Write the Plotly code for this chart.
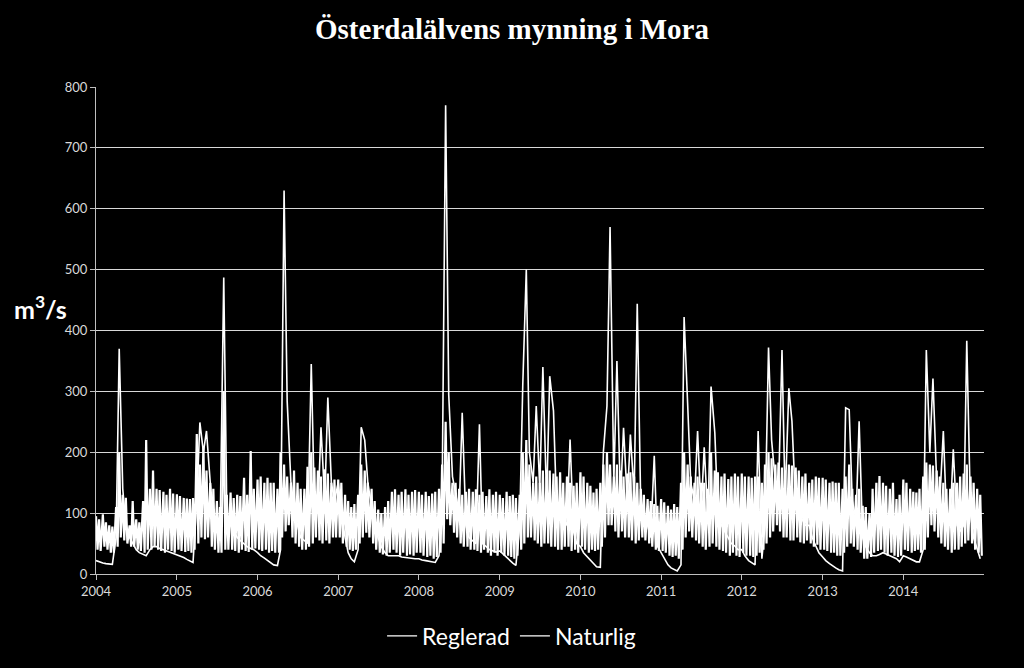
import pandas as pd
import plotly.graph_objects as go

years = list(range(2004, 2015))
tick_labels = [str(y) for y in years]

# Half-monthly readings (1st and 16th of each month), one row per year 2004-2014
reglerad_hog = [
    [95, 90, 98, 85, 80, 78, 110, 200, 130, 125, 80, 120, 90, 85, 120, 220, 140, 170, 140, 138, 135, 130, 140, 132],
    [131, 128, 125, 124, 123, 125, 230, 180, 210, 170, 150, 140, 120, 110, 300, 130, 134, 125, 130, 128, 158, 130, 202, 140],
    [155, 160, 150, 158, 150, 150, 140, 200, 180, 160, 150, 170, 150, 140, 140, 176, 200, 175, 170, 160, 172, 165, 150, 155],
    [155, 150, 130, 120, 110, 115, 130, 180, 170, 150, 140, 120, 106, 100, 110, 120, 135, 139, 130, 135, 139, 130, 135, 138],
    [135, 130, 135, 128, 132, 135, 140, 180, 250, 200, 150, 150, 140, 130, 135, 140, 135, 139, 130, 135, 128, 139, 130, 135],
    [130, 125, 135, 128, 130, 125, 130, 200, 220, 180, 150, 160, 150, 170, 160, 170, 165, 160, 167, 150, 160, 150, 145, 150],
    [167, 160, 150, 145, 134, 140, 150, 180, 200, 180, 160, 180, 170, 160, 165, 167, 160, 150, 140, 130, 123, 120, 115, 112],
    [123, 118, 112, 106, 115, 110, 150, 200, 180, 160, 150, 160, 150, 150, 140, 200, 170, 167, 160, 165, 156, 160, 165, 160],
    [165, 160, 160, 158, 160, 160, 150, 180, 200, 190, 180, 183, 175, 170, 180, 178, 175, 170, 160, 165, 150, 155, 160, 158],
    [158, 155, 150, 152, 150, 150, 140, 160, 180, 140, 130, 140, 112, 110, 100, 140, 150, 161, 150, 145, 140, 150, 123, 130],
    [155, 150, 140, 135, 134, 140, 160, 183, 180, 178, 170, 160, 150, 140, 140, 150, 150, 160, 165, 180, 160, 150, 140, 130],
]
reglerad_lag = [
    [40, 38, 45, 40, 35, 35, 45, 60, 55, 50, 45, 45, 40, 38, 35, 40, 40, 45, 40, 38, 35, 40, 38, 35],
    [40, 38, 36, 38, 35, 40, 50, 60, 57, 60, 45, 40, 35, 35, 40, 40, 40, 38, 35, 40, 38, 36, 40, 42],
    [40, 38, 40, 35, 38, 35, 35, 60, 70, 80, 60, 50, 45, 40, 40, 45, 50, 60, 55, 50, 55, 50, 60, 60],
    [60, 50, 45, 40, 38, 40, 50, 60, 68, 60, 50, 40, 35, 32, 30, 35, 40, 35, 30, 35, 30, 32, 30, 35],
    [35, 30, 28, 30, 25, 28, 35, 50, 90, 80, 68, 60, 50, 45, 45, 40, 40, 38, 35, 40, 35, 30, 35, 30],
    [35, 30, 30, 28, 25, 30, 40, 50, 60, 60, 55, 50, 45, 50, 50, 45, 45, 40, 40, 45, 45, 38, 40, 35],
    [45, 40, 35, 40, 38, 40, 45, 60, 80, 80, 70, 60, 70, 60, 60, 55, 50, 55, 60, 55, 50, 45, 40, 38],
    [38, 35, 30, 28, 30, 25, 40, 60, 70, 60, 55, 50, 45, 40, 45, 50, 45, 40, 38, 35, 30, 35, 30, 28],
    [35, 30, 30, 28, 30, 35, 40, 50, 60, 70, 80, 70, 60, 60, 55, 55, 60, 52, 50, 55, 50, 45, 48, 40],
    [40, 38, 35, 35, 30, 30, 35, 45, 50, 45, 40, 35, 25, 25, 28, 35, 38, 40, 35, 30, 35, 30, 28, 30],
    [40, 38, 35, 38, 40, 35, 40, 60, 80, 70, 60, 50, 45, 40, 35, 40, 40, 45, 50, 55, 50, 40, 35, 30],
]
naturlig = [
    [22, 20, 18, 17, 16, 16, 60, 370, 140, 80, 60, 50, 40, 35, 32, 30, 40, 45, 45, 42, 40, 38, 36, 34],
    [32, 30, 27, 24, 21, 19, 120, 249, 200, 235, 150, 95, 70, 55, 487, 100, 80, 70, 60, 55, 50, 45, 42, 40],
    [35, 30, 26, 22, 18, 15, 14, 40, 630, 284, 150, 110, 80, 60, 55, 50, 345, 120, 100, 241, 120, 290, 150, 120],
    [150, 100, 60, 35, 25, 20, 40, 241, 220, 150, 110, 80, 60, 45, 35, 30, 30, 30, 30, 28, 27, 26, 26, 25],
    [25, 23, 22, 21, 20, 19, 30, 120, 770, 295, 160, 130, 100, 265, 80, 60, 55, 50, 246, 50, 45, 40, 38, 36],
    [38, 33, 28, 22, 18, 14, 80, 310, 500, 200, 150, 276, 140, 340, 120, 325, 268, 110, 100, 90, 80, 221, 70, 50],
    [45, 35, 28, 22, 17, 12, 11, 202, 276, 570, 150, 350, 120, 240, 120, 229, 130, 444, 110, 100, 80, 60, 194, 46],
    [35, 25, 15, 10, 7, 5, 15, 422, 280, 150, 120, 235, 100, 208, 90, 308, 232, 100, 80, 70, 60, 50, 46, 40],
    [40, 30, 22, 18, 15, 235, 25, 80, 372, 220, 150, 130, 368, 120, 305, 251, 110, 100, 90, 80, 80, 60, 46, 35],
    [28, 22, 17, 13, 10, 7, 5, 273, 270, 120, 90, 251, 60, 45, 35, 30, 30, 32, 35, 33, 30, 28, 25, 20],
    [30, 28, 25, 22, 20, 20, 40, 368, 200, 321, 150, 120, 235, 100, 90, 205, 80, 70, 80, 383, 100, 60, 40, 25],
]
serie_namn = ["Reglerad", "Naturlig"]

halvmanad = pd.date_range("2004-01-01", "2014-12-31", freq="SMS")  # 1st and 15th

hog = [v for row in reglerad_hog for v in row]
lag = [v for row in reglerad_lag for v in row]
nat = [v for row in naturlig for v in row]

reg_x, reg_y = [], []
for d, h, l in zip(halvmanad, hog, lag):
    reg_x += [d, d + pd.Timedelta(days=7)]
    reg_y += [h, l]

fig = go.Figure()
fig.add_trace(go.Scatter(x=reg_x, y=reg_y, mode="lines", name=serie_namn[0],
                         line=dict(color="white", width=2.2), showlegend=False,
                         legendgroup="reg"))
fig.add_trace(go.Scatter(x=list(halvmanad), y=nat, mode="lines", name=serie_namn[1],
                         line=dict(color="white", width=1.6), showlegend=False,
                         legendgroup="nat"))
# legend entries with thin line samples, as in the reference
for namn, grp in zip(serie_namn, ["reg", "nat"]):
    fig.add_trace(go.Scatter(x=[None], y=[None], mode="lines", name=namn,
                             legendgroup=grp, line=dict(color="white", width=1.3)))

fig.update_layout(
    width=1024, height=668,
    paper_bgcolor="black", plot_bgcolor="black",
    margin=dict(l=96, r=40, t=87, b=93),
    title=dict(text="<b>Österdalälvens mynning i Mora</b>", x=0.5, xanchor="center",
               y=1 - 29 / 668, yanchor="middle", yref="container",
               font=dict(family="Liberation Serif", size=29, color="white")),
    showlegend=True,
    legend=dict(orientation="h", x=0.468, xanchor="center", y=-0.125, yanchor="middle",
                font=dict(family="Lato", size=23, color="white"), bgcolor="rgba(0,0,0,0)",
                itemwidth=30),
    font=dict(family="Lato", color="#d9d9d9"),
)
fig.update_xaxes(
    type="date", range=["2004-01-01", "2015-01-01"],
    tickvals=[pd.Timestamp(f"{y}-01-01") for y in years], ticktext=tick_labels,
    showgrid=False, showline=True, linecolor="#bfbfbf", linewidth=1,
    ticks="outside", ticklen=5, tickcolor="#bfbfbf",
    tickfont=dict(family="Lato", size=13, color="#d9d9d9"), zeroline=False,
)
fig.update_yaxes(
    range=[0, 800], dtick=100, showgrid=True, gridcolor="#d9d9d9", gridwidth=1,
    showline=True, linecolor="#bfbfbf", linewidth=1,
    ticks="outside", ticklen=5, tickcolor="#bfbfbf",
    tickfont=dict(family="Lato", size=13, color="#d9d9d9"), zeroline=False,
)
fig.add_annotation(text="<b>m<sup>3</sup>/s</b>", xref="paper", yref="paper",
                   x=-0.063, y=0.547, xanchor="center", yanchor="middle", showarrow=False,
                   font=dict(family="Lato", size=25, color="white"))

fig.write_html("out.html")
